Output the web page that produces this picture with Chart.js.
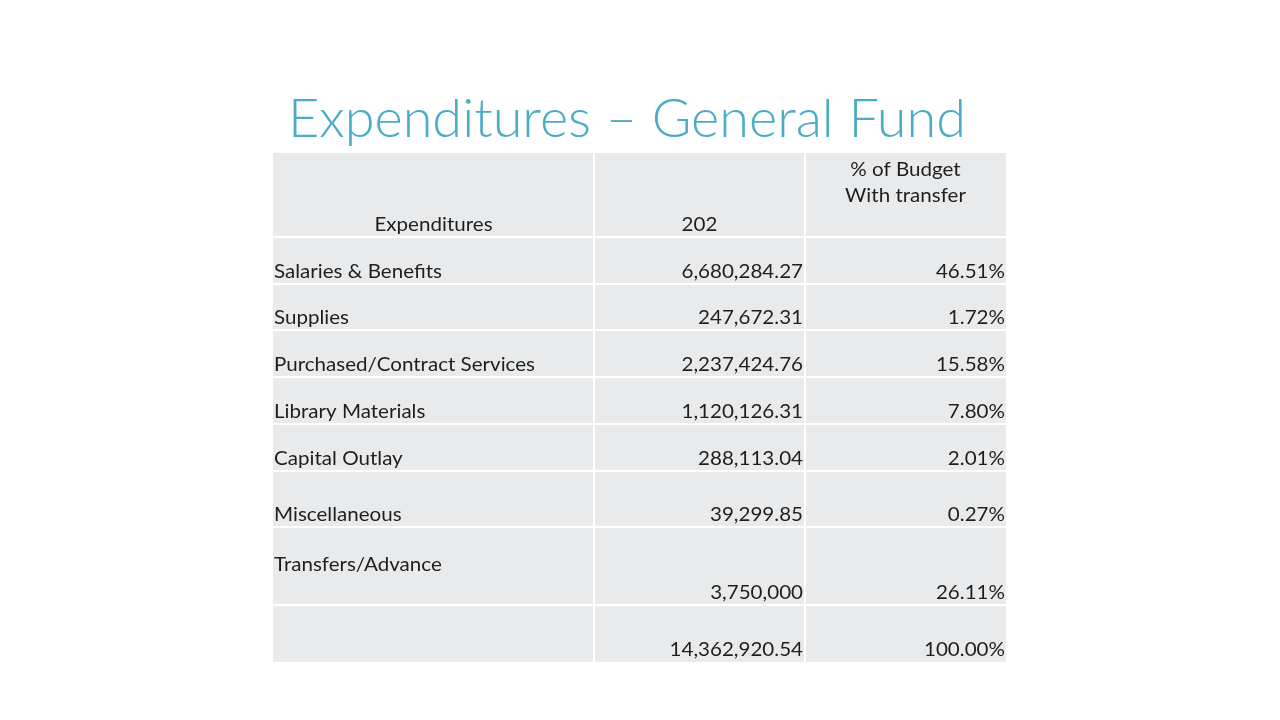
<!DOCTYPE html>
<html>
<head>
<meta charset="utf-8">
<script src="https://cdn.jsdelivr.net/npm/chart.js@4/dist/chart.umd.min.js"></script>
<style>
	html, body { margin: 0; background: #fff; }
	canvas { display: block; }
</style>
</head>
<body>
<canvas id="tableChart" width="1280" height="720"></canvas>
<script>
// --- DATA ---
const title = 'Expenditures – General Fund';
const headers = ['Expenditures', '202', ['% of Budget', 'With transfer']];
const categories = ['Salaries & Benefits', 'Supplies', 'Purchased/Contract Services', 'Library Materials',
	'Capital Outlay', 'Miscellaneous', 'Transfers/Advance'];
const amounts = [6680284.27, 247672.31, 2237424.76, 1120126.31, 288113.04, 39299.85, 3750000];
const percents = [46.51, 1.72, 15.58, 7.80, 2.01, 0.27, 26.11];
const totalAmount = 14362920.54;
const totalPercent = 100.00;

// --- LAYOUT (table units, one unit = one pixel) ---
const colEdges = [0, 321, 532, 733];
const rowEdges = [0, 84, 131, 177, 224, 271, 318, 374, 452, 509];
const cellColor = '#e9eaec';
const textColor = '#1e1e1e';
const bodyFont = '19px Lato';
const titleFont = '300 53px Lato';

function formatAmount(v) {
	const digits = Number.isInteger(v) ? 0 : 2;
	return v.toLocaleString('en-US', { minimumFractionDigits: digits, maximumFractionDigits: digits });
}

function formatPercent(v) {
	return v.toFixed(2) + '%';
}

// draws text squeezed horizontally so the font matches the slide's narrower face
function drawText(ctx, text, x, y, align, sx) {
	ctx.save();
	ctx.translate(x, y);
	ctx.scale(sx, 1);
	ctx.textAlign = align;
	ctx.textBaseline = 'alphabetic';
	ctx.fillText(text, 0, 0);
	ctx.restore();
}

const tablePlugin = {
	id: 'tablePlugin',
	beforeDatasetsDraw(chart) {
		const ctx = chart.ctx;
		const xs = chart.scales.x;
		const ys = chart.scales.y;
		const px = v => xs.getPixelForValue(v);
		const py = v => ys.getPixelForValue(v);

		// cells
		ctx.fillStyle = cellColor;
		const lastCol = colEdges.length - 2;
		const lastRow = rowEdges.length - 2;
		for (let r = 0; r <= lastRow; r++) {
			for (let c = 0; c <= lastCol; c++) {
				const x0 = px(colEdges[c]) + (c > 0 ? 1 : 0);
				const x1 = px(colEdges[c + 1]) - (c < lastCol ? 1 : 0);
				const y0 = py(rowEdges[r]) + (r > 0 ? 1 : 0);
				const y1 = py(rowEdges[r + 1]) - (r < lastRow ? 1 : 0);
				ctx.fillRect(x0, y0, x1 - x0, y1 - y0);
			}
		}

		// text scale fitted to the slide's font widths
		ctx.font = bodyFont;
		const bodySx = 261 / ctx.measureText('Purchased/Contract Services').width;
		ctx.fillStyle = textColor;

		// header
		const hb = py(rowEdges[1]) - 6;
		drawText(ctx, headers[0], (px(colEdges[0]) + px(colEdges[1])) / 2, hb, 'center', bodySx);
		drawText(ctx, headers[1], (px(colEdges[1]) + px(colEdges[2])) / 2, hb, 'center', bodySx);
		const c3 = (px(colEdges[2]) + px(colEdges[3])) / 2;
		drawText(ctx, headers[2][0], c3, py(rowEdges[0]) + 23, 'center', bodySx);
		drawText(ctx, headers[2][1], c3, py(rowEdges[0]) + 49, 'center', bodySx);

		// body rows
		categories.forEach((name, i) => {
			const bottom = py(rowEdges[i + 2]) - 6;
			const labelY = i === categories.length - 1 ? py(rowEdges[i + 1]) + 44 : bottom;
			drawText(ctx, name, px(colEdges[0]) + 1, labelY, 'left', bodySx);
			drawText(ctx, formatAmount(amounts[i]), px(colEdges[2]) - 2, bottom, 'right', bodySx);
			drawText(ctx, formatPercent(percents[i]), px(colEdges[3]) - 1, bottom, 'right', bodySx);
		});

		// total row
		const tb = py(rowEdges[rowEdges.length - 1]) - 6;
		drawText(ctx, formatAmount(totalAmount), px(colEdges[2]) - 2, tb, 'right', bodySx);
		drawText(ctx, formatPercent(totalPercent), px(colEdges[3]) - 1, tb, 'right', bodySx);

		// title
		ctx.font = titleFont;
		ctx.fillStyle = '#4bacc6';
		const titleSx = 678 / ctx.measureText(title).width;
		drawText(ctx, title, 627, 137, 'center', titleSx);
	}
};

new Chart(document.getElementById('tableChart'), {
	type: 'scatter',
	data: { datasets: [{ data: [] }] },
	options: {
		responsive: false,
		animation: false,
		events: [],
		layout: { padding: { left: 273, right: 274, top: 153, bottom: 58 } },
		plugins: { legend: { display: false }, tooltip: { enabled: false } },
		scales: {
			x: { type: 'linear', display: false, min: 0, max: colEdges[colEdges.length - 1] },
			y: { type: 'linear', display: false, reverse: true, min: 0, max: rowEdges[rowEdges.length - 1] }
		}
	},
	plugins: [tablePlugin]
});
</script>
</body>
</html>
